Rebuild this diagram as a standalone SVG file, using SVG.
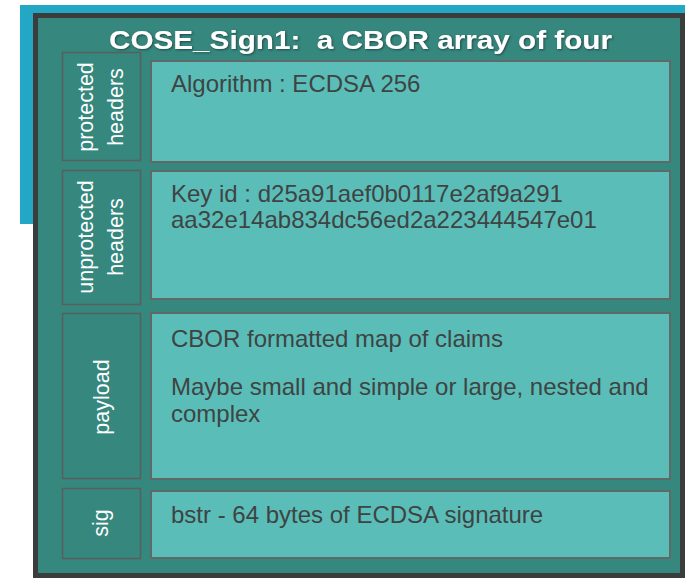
<svg xmlns="http://www.w3.org/2000/svg" width="685" height="578" viewBox="0 0 685 578">
<defs>
<style>
.lbl{fill:#36877e;stroke:#5a5f5e;stroke-width:1.5}
.box{fill:#5bbdb7;stroke:#5f6a68;stroke-width:2}
.lt{font-family:"Liberation Sans",Arial,sans-serif;font-size:21.5px;fill:#ffffff;text-anchor:middle}
.ct{font-family:"Liberation Sans",Arial,sans-serif;font-size:24px;fill:#3e4444}
.title{font-family:"Liberation Sans",Arial,sans-serif;font-size:26px;font-weight:bold;fill:#ffffff;white-space:pre}
</style>
<filter id="sh" x="-5%" y="-30%" width="110%" height="160%">
<feDropShadow dx="1" dy="1" stdDeviation="0.8" flood-color="#1d3f3b" flood-opacity="0.9"/>
</filter>
</defs>
<rect x="20" y="5" width="665" height="219" fill="#22a7c4"/>
<g id="frame">
<rect x="35.5" y="15.5" width="647" height="560" fill="#36877e" stroke="#3b3d3d" stroke-width="5"/>
<text class="title" x="109" y="49" xml:space="preserve" textLength="503" lengthAdjust="spacingAndGlyphs" filter="url(#sh)">COSE_Sign1:  a CBOR array of four</text>
</g>
<g id="protected">
<rect class="lbl" x="62.5" y="52.5" width="78" height="108"/>
<text class="lt" transform="translate(93,107) rotate(-90)">protected</text>
<text class="lt" transform="translate(123,107) rotate(-90)">headers</text>
<rect class="box" x="151" y="61" width="519" height="101"/>
<text class="ct" x="171" y="92">Algorithm : ECDSA 256</text>
</g>
<g id="unprotected">
<rect class="lbl" x="62.5" y="170.5" width="78" height="134"/>
<text class="lt" transform="translate(93,237) rotate(-90)">unprotected</text>
<text class="lt" transform="translate(123,237) rotate(-90)">headers</text>
<rect class="box" x="151" y="171" width="519" height="128"/>
<text class="ct" x="171" y="202">Key id : d25a91aef0b0117e2af9a291</text>
<text class="ct" x="171" y="228">aa32e14ab834dc56ed2a223444547e01</text>
</g>
<g id="payload">
<rect class="lbl" x="62.5" y="313.5" width="78" height="165"/>
<text class="lt" transform="translate(109,397) rotate(-90)">payload</text>
<rect class="box" x="151" y="313" width="519" height="166"/>
<text class="ct" x="171" y="347">CBOR formatted map of claims</text>
<text class="ct" x="171" y="395">Maybe small and simple or large, nested and</text>
<text class="ct" x="171" y="422">complex</text>
</g>
<g id="sig">
<rect class="lbl" x="62.5" y="488.5" width="78" height="70"/>
<text class="lt" transform="translate(108,523) rotate(-90)">sig</text>
<rect class="box" x="151" y="491" width="519" height="67"/>
<text class="ct" x="171" y="523">bstr - 64 bytes of ECDSA signature</text>
</g>
<g id="connectors"/>
</svg>
